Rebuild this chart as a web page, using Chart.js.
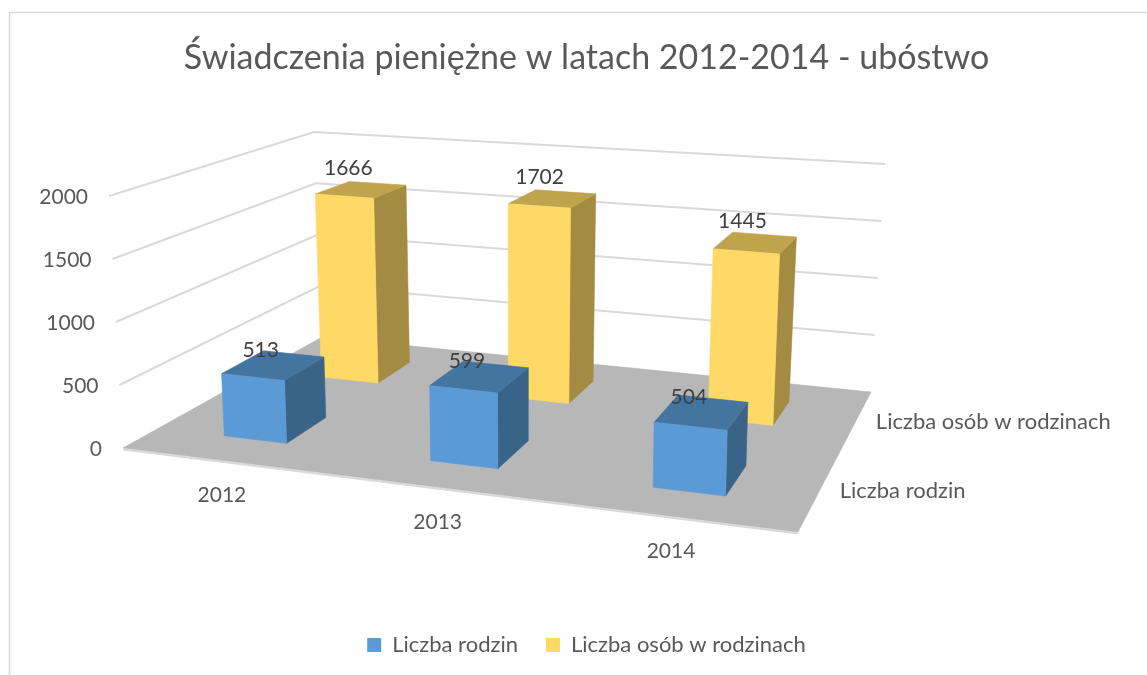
<!DOCTYPE html>
<html><head><meta charset="utf-8">
<style>html,body{margin:0;padding:0;background:#fff}canvas{display:block}</style>
<script src="https://cdn.jsdelivr.net/npm/chart.js@4"></script>
</head><body><canvas id="c" width="1147" height="675"></canvas>
<script>
const titleText = "Świadczenia pieniężne w latach 2012-2014 - ubóstwo";
const categories = ["2012", "2013", "2014"];
const seriesNames = ["Liczba rodzin", "Liczba osób w rodzinach"];
const liczbaRodzin = [513, 599, 504];
const liczbaOsob = [1666, 1702, 1445];
const seriesColors = ["#5B9BD5", "#FFD966"];
const axisMax = 2000;
const axisStep = 500;

// Scene of the 3D box: front-left, front-right, back-right, back-left
const floorQuad = [[123,448],[798,532],[871,392],[322,337]];
const ceilQuad  = [[109,196],[806,256],[885,164],[314,132]];
const rowCentres = [0.25, 0.75];
const rowDepth = 0.2;
const barShiftU = -0.004;
const barRise = 0.98;
const labelLift = [15, 21];

function homography(q){
  const [[x0,y0],[x1,y1],[x2,y2],[x3,y3]] = q;
  const dx1=x1-x2, dx2=x3-x2, dy1=y1-y2, dy2=y3-y2, sx=x0-x1+x2-x3, sy=y0-y1+y2-y3;
  const den=dx1*dy2-dx2*dy1, g=(sx*dy2-dx2*sy)/den, h=(dx1*sy-sx*dy1)/den;
  const a=x1-x0+g*x1, b=x3-x0+h*x3, d=y1-y0+g*y1, e=y3-y0+h*y3;
  return (u,v)=>{const k=g*u+h*v+1;return [(a*u+b*v+x0)/k,(d*u+e*v+y0)/k];};
}
const Hf = homography(floorQuad);
const rise = ceilQuad.map((c,i)=>[c[0]-floorQuad[i][0],c[1]-floorQuad[i][1]]);
function P(u,v,w){
  const f=Hf(u,v);
  const r=k=>(rise[0][k]*(1-u)+rise[1][k]*u)*(1-v)+(rise[3][k]*(1-u)+rise[2][k]*u)*v;
  return [f[0]+r(0)*w,f[1]+r(1)*w];
}
function shade(hex,k){
  const n=parseInt(hex.slice(1),16);
  return `rgb(${Math.round((n>>16&255)*k)},${Math.round((n>>8&255)*k)},${Math.round((n&255)*k)})`;
}
function poly(ctx,pts,fill){
  ctx.beginPath();pts.forEach((p,i)=>i?ctx.lineTo(p[0],p[1]):ctx.moveTo(p[0],p[1]));ctx.closePath();
  ctx.fillStyle=fill;ctx.fill();ctx.strokeStyle=fill;ctx.lineWidth=0.6;ctx.stroke();
}
function barGeom(el,chart,row){
  const a=chart.chartArea, uc=(el.x-a.left)/a.width+barShiftU, du=el.width/a.width/2;
  const w=(a.bottom-el.y)/a.height*barRise, vc=rowCentres[row], dv=rowDepth/2;
  return {u0:uc-du,u1:uc+du,v0:vc-dv,v1:vc+dv,w,uc,vc};
}
// Each bar element is drawn as a box, from the position the scales gave it.
Chart.BarElement.prototype.draw=function(ctx){
  const g=barGeom(this,this.$chart,this.$row), col=this.options.backgroundColor;
  ctx.save();
  poly(ctx,[P(g.u1,g.v0,0),P(g.u1,g.v1,0),P(g.u1,g.v1,g.w),P(g.u1,g.v0,g.w)],shade(col,0.64));
  poly(ctx,[P(g.u0,g.v0,g.w),P(g.u1,g.v0,g.w),P(g.u1,g.v1,g.w),P(g.u0,g.v1,g.w)],shade(col,0.75));
  poly(ctx,[P(g.u0,g.v0,0),P(g.u1,g.v0,0),P(g.u1,g.v0,g.w),P(g.u0,g.v0,g.w)],col);
  ctx.restore();
};
const scene={
  id:'scene',
  beforeDraw(chart){
    const ctx=chart.ctx,y=chart.scales.y,x=chart.scales.x;
    chart.data.datasets.forEach((ds,di)=>chart.getDatasetMeta(di).data.forEach(el=>{el.$chart=chart;el.$row=di;}));
    ctx.save();
    ctx.strokeStyle='#D9D9D9';ctx.lineWidth=1.5;ctx.strokeRect(9.5,12.5,1400,900);
    ctx.lineWidth=2;
    y.ticks.forEach(t=>{
      const w=t.value/axisMax;
      if(w===0)return;
      const a=P(0,0,w),b=P(0,1,w),c=P(1,1,w);
      ctx.beginPath();ctx.moveTo(a[0],a[1]);ctx.lineTo(b[0],b[1]);ctx.lineTo(c[0],c[1]);ctx.stroke();
    });
    const f0=P(0,0,0),f1=P(1,0,0);
    ctx.beginPath();ctx.moveTo(f0[0],f0[1]+1.5);ctx.lineTo(f1[0],f1[1]+1.5);ctx.stroke();
    poly(ctx,[P(0,0,0),P(1,0,0),P(1,1,0),P(0,1,0)],'#B7B7B7');
    ctx.restore();
    y.getLabelItems().forEach((it,i)=>{
      const p=P(0,0,y.ticks[i].value/axisMax);
      it.options.translation=[p[0]-21,p[1]+1.5];
    });
    x.getLabelItems().forEach((it,i)=>{
      const p=P((i+0.5)/categories.length,0,0);
      it.options.textBaseline='middle';
      it.options.textAlign='center';
      it.options.translation=[p[0]-3,p[1]+22];
    });
  },
  afterDatasetsDraw(chart){
    const ctx=chart.ctx;
    ctx.save();
    ctx.font='21px Lato';ctx.textBaseline='middle';ctx.textAlign='center';ctx.fillStyle='#404040';
    chart.data.datasets.forEach((ds,di)=>{
      chart.getDatasetMeta(di).data.forEach((el,i)=>{
        const g=barGeom(el,chart,di),p=P(g.uc,g.vc,g.w);
        ctx.fillText(String(ds.data[i]),p[0]-13,p[1]-labelLift[di]);
      });
    });
    ctx.font='22px Lato';ctx.fillStyle='#595959';ctx.textAlign='left';
    chart.data.datasets.forEach((ds,di)=>{
      const p=P(1,rowCentres[di],0);
      ctx.fillText(ds.label,p[0]+20,p[1]+1);
    });
    ctx.restore();
  }
};
new Chart(document.getElementById('c'),{
  type:'bar',
  data:{labels:categories,datasets:[
    {label:seriesNames[0],data:liczbaRodzin,backgroundColor:seriesColors[0],grouped:false,clip:false,barPercentage:0.31,categoryPercentage:1},
    {label:seriesNames[1],data:liczbaOsob,backgroundColor:seriesColors[1],grouped:false,clip:false,barPercentage:0.31,categoryPercentage:1}
  ]},
  plugins:[scene],
  options:{
    responsive:false,animation:false,
    layout:{padding:{left:26,right:0,top:0,bottom:9}},
    plugins:{
      tooltip:{enabled:false},
      title:{display:true,text:titleText,color:'#595959',font:{family:'Lato',size:34,weight:'normal'},padding:{top:38,bottom:117}},
      legend:{position:'bottom',labels:{color:'#595959',font:{family:'Lato',size:22},boxWidth:14,boxHeight:14,padding:28}}
    },
    scales:{
      x:{grid:{display:false},border:{display:false},ticks:{color:'#595959',font:{family:'Lato',size:21},maxRotation:0},afterFit(s){s.height=170;}},
      y:{min:0,max:axisMax,grid:{display:false},border:{display:false},ticks:{stepSize:axisStep,color:'#595959',font:{family:'Lato',size:21},callback:v=>String(v)},afterFit(s){s.width=89;}}
    }
  }
});
</script></body></html>
